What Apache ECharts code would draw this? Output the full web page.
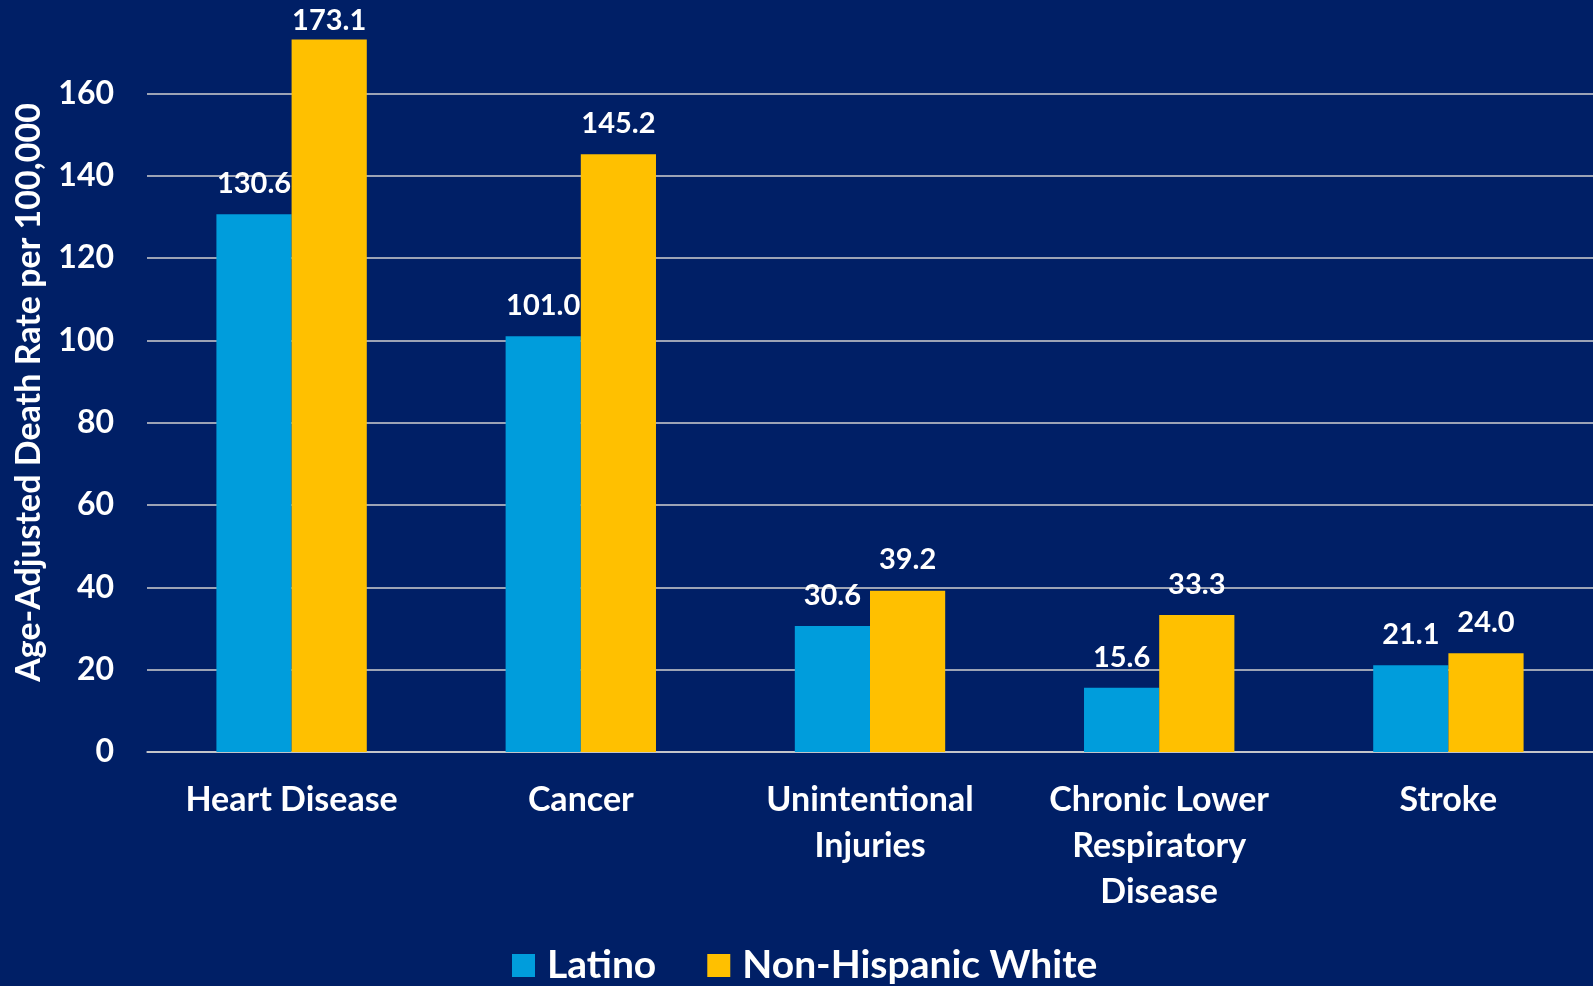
<!DOCTYPE html>
<html>
<head>
<meta charset="utf-8">
<style>
  html, body { margin: 0; padding: 0; background: #001f66; }
  #chart { width: 1593px; height: 986px; }
</style>
<script src="https://cdn.jsdelivr.net/npm/echarts@6/dist/echarts.min.js"></script>
</head>
<body>
<div id="chart"></div>
<script>
const categories = ["Heart Disease", "Cancer", "Unintentional\nInjuries", "Chronic Lower\nRespiratory\nDisease", "Stroke"];
const latino = [130.6, 101.0, 30.6, 15.6, 21.1];
const nonHispanicWhite = [173.1, 145.2, 39.2, 33.3, 24.0];

const font = "Lato, 'Open Sans', sans-serif";
const gridColor = "#d0d0d0";

const chart = echarts.init(document.getElementById("chart"));
const barLabel = {
  show: true,
  position: "top",
  distance: 16,
  color: "#fff",
  fontFamily: font,
  fontWeight: "bold",
  fontSize: 29,
  formatter: (p) => p.value.toFixed(1),
};

// the tallest bar's label sits closer to the bar (clamped at the top edge)
const whiteData = nonHispanicWhite.map((v, i) =>
  i === 0 ? { value: v, label: { distance: 4 } } : v
);

const option = {
  backgroundColor: "#001f66",
  animation: false,
  grid: { left: 147, right: 0, top: 11, bottom: 234 },
  legend: {
    left: 507,
    top: 941,
    itemWidth: 23,
    itemHeight: 23,
    itemGap: 51,
    icon: "rect",
    textStyle: { color: "#fff", fontFamily: font, fontWeight: "bold", fontSize: 39, padding: [0, 0, 0, 7] },
    data: ["Latino", "Non-Hispanic White"],
  },
  xAxis: {
    type: "category",
    data: categories,
    axisLine: { show: true, lineStyle: { color: gridColor, width: 1.5 } },
    axisTick: { show: false },
    axisLabel: {
      color: "#fff",
      fontFamily: font,
      fontWeight: "bold",
      fontSize: 34,
      lineHeight: 46,
      margin: 25,
      interval: 0,
    },
  },
  yAxis: {
    type: "value",
    min: 0,
    max: 180,
    interval: 20,
    name: "Age-Adjusted Death Rate per 100,000",
    nameLocation: "middle",
    nameGap: 101,
    nameTextStyle: { color: "#fff", fontFamily: font, fontWeight: "bold", fontSize: 34, padding: [0, 22, 0, 0] },
    axisLine: { show: false },
    axisTick: { show: false },
    axisLabel: {
      color: "#fff",
      fontFamily: font,
      fontWeight: "bold",
      fontSize: 32,
      margin: 33,
      showMaxLabel: false,
    },
    splitLine: {
      lineStyle: {
        width: 1.5,
        color: [gridColor, gridColor, gridColor, gridColor, gridColor, gridColor, gridColor, gridColor, gridColor, "rgba(0,0,0,0)"],
      },
    },
  },
  series: [
    {
      name: "Latino",
      type: "bar",
      data: latino,
      barGap: "0%",
      barCategoryGap: "48%",
      itemStyle: { color: "#009ddc" },
      label: barLabel,
    },
    {
      name: "Non-Hispanic White",
      type: "bar",
      data: whiteData,
      itemStyle: { color: "#ffc000" },
      label: barLabel,
    },
  ],
};
chart.setOption(option);
</script>
</body>
</html>
